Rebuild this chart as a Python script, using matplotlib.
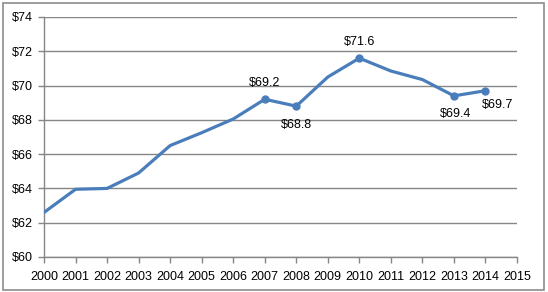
import matplotlib
matplotlib.use("Agg")
import matplotlib.pyplot as plt
from matplotlib.patches import Rectangle

#### datos
years = [2000, 2001, 2002, 2003, 2004, 2005, 2006, 2007,
         2008, 2009, 2010, 2011, 2012, 2013, 2014]
values = [62.6, 63.95, 64.0, 64.9, 66.5, 67.25, 68.05, 69.2,
          68.8, 70.5, 71.6, 70.85, 70.35, 69.4, 69.7]

# puntos etiquetados: (anio, desplazamiento x px, desplazamiento y px)
label_years = [2007, 2008, 2010, 2013, 2014]
label_dx = [0, 0, 0, 2, 12]
label_dy = [16, -19, 16, -18, -14]

xticks = list(range(2000, 2016))
yticks = list(range(60, 76, 2))

blue = "#4A7EBB"
grid_c = "#868686"

plt.rcParams["font.family"] = ["Liberation Sans", "DejaVu Sans"]

fig = plt.figure(figsize=(5.48, 2.92), dpi=100)
fig.patches.append(Rectangle((3 / 548, 2 / 292), 541 / 548, 287 / 292,
                             transform=fig.transFigure, fill=False,
                             edgecolor="#8c8c8c", linewidth=1.2))

ax = fig.add_axes([44 / 548, 1 - 257 / 292, 473 / 548, 240 / 292])

ax.plot(years, values, color=blue, linewidth=2.3, solid_joinstyle="round",
        zorder=3)

for yr, dx, dy in zip(label_years, label_dx, label_dy):
    v = values[years.index(yr)]
    ax.plot(yr, v, "o", color=blue, markersize=5, zorder=4)
    ax.annotate("$%.1f" % v, (yr, v), xytext=(dx, dy),
                textcoords="offset pixels", ha="center", va="center",
                fontsize=9)

ax.set_xlim(2000, 2015)
ax.set_ylim(60, 74)
ax.set_xticks(xticks)
ax.set_yticks(yticks)
ax.set_yticklabels(["$%d" % t for t in yticks])
ax.tick_params(axis="both", labelsize=9, color=grid_c, length=4, width=1)
ax.tick_params(axis="x", pad=6)
ax.tick_params(axis="y", pad=4)

ax.grid(axis="y", color=grid_c, linewidth=1)
ax.set_axisbelow(True)
for s in ["top", "right"]:
    ax.spines[s].set_visible(False)
for s in ["left", "bottom"]:
    ax.spines[s].set_color(grid_c)
    ax.spines[s].set_linewidth(1)

plt.savefig("out.png", dpi=100)
